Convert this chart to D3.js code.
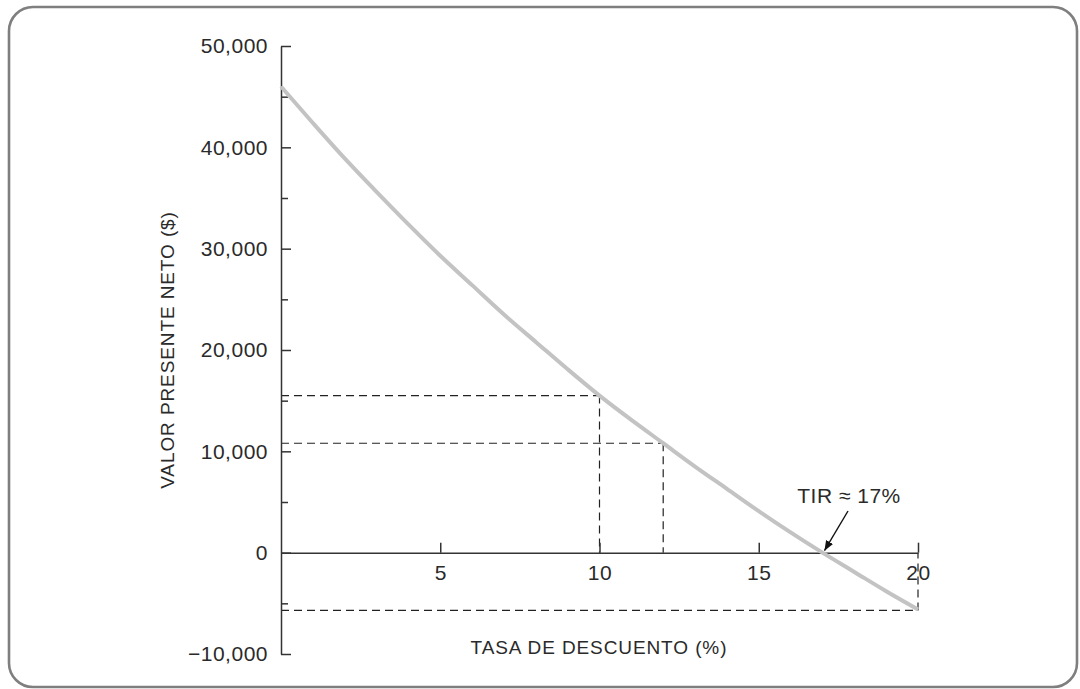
<!DOCTYPE html>
<html><head><meta charset="utf-8">
<script src="https://cdn.jsdelivr.net/npm/d3@7"></script>
<style>
html,body{margin:0;padding:0;background:#fff;}
svg{display:block;}
text{font-family:"Liberation Sans",Arial,sans-serif;fill:#2a2a2a;}
</style></head>
<body>
<svg id="chart" width="1080" height="689"></svg>
<script>
// Data
const rates = [0,1,2,3,4,5,6,7,8,9,10,11,12,13,14,15,16,17,18,19,20];
const npv = [46000,42400,38900,35600,32400,29300,26400,23500,20800,18100,15500,13100,10800,8500,6300,4100,2000,0,-1900,-3800,-5600];
const xTicks = [5,10,15,20];
const yMajorTicks = [-10000,0,10000,20000,30000,40000,50000];
const yMinorTicks = [-5000,5000,15000,25000,35000,45000];
const guideRates = [10,12,20];
const guideValues = [15500,10800,-5700];
const tirRate = 17;
const tirLabel = "TIR \u2248 17%";
const xTitle = "TASA DE DESCUENTO (%)";
const yTitle = "VALOR PRESENTE NETO ($)";

const svg = d3.select("#chart");
const x = d3.scaleLinear().domain([0,20]).range([281,918]);
const y = d3.scaleLinear().domain([-10000,50000]).range([654,46]);

// frame
svg.append("rect").attr("x",9).attr("y",7).attr("width",1068).attr("height",680)
  .attr("rx",24).attr("ry",24).attr("fill","none").attr("stroke","#7f7f7f").attr("stroke-width",2.6);

const axColor = "#333";
const lsTick = "0.5px";
const lsTitle = "0.9px";

// guide dashed lines
const dash = "8,5";
guideRates.forEach((r,i)=>{
  const v = guideValues[i];
  svg.append("line").attr("x1",x(0)).attr("x2",x(r)).attr("y1",y(v)).attr("y2",y(v))
    .attr("stroke","#222").attr("stroke-width",1.2).attr("stroke-dasharray",dash);
  svg.append("line").attr("x1",x(r)).attr("x2",x(r)).attr("y1",y(v)).attr("y2",y(0))
    .attr("stroke","#222").attr("stroke-width",1.2).attr("stroke-dasharray",dash);
});

// y axis
const yAxis = d3.axisLeft(y).tickValues(yMajorTicks).tickSizeInner(-10).tickSizeOuter(0).tickPadding(13)
  .tickFormat(d => d<0 ? "\u2212"+d3.format(",")(-d) : d3.format(",")(d));
const gy = svg.append("g").attr("transform",`translate(${x(0)},0)`).call(yAxis);
gy.selectAll("path,line").attr("stroke",axColor).attr("stroke-width",1.5);
gy.selectAll("text").attr("font-size",21).attr("font-family","Liberation Sans, Arial, sans-serif")
  .attr("fill","#2a2a2a").style("letter-spacing",lsTick);
const yMinor = d3.axisLeft(y).tickValues(yMinorTicks).tickSizeInner(-7).tickSizeOuter(0).tickFormat("");
const gym = svg.append("g").attr("transform",`translate(${x(0)},0)`).call(yMinor);
gym.select("path").remove();
gym.selectAll("line").attr("stroke",axColor).attr("stroke-width",1.5);

// x axis
const xAxis = d3.axisBottom(x).tickValues(xTicks).tickSizeInner(-10).tickSizeOuter(0).tickPadding(12);
const gx = svg.append("g").attr("transform",`translate(0,${y(0)})`).call(xAxis);
gx.selectAll("path,line").attr("stroke",axColor).attr("stroke-width",1.5);
gx.selectAll("text").attr("font-size",21).attr("font-family","Liberation Sans, Arial, sans-serif")
  .attr("fill","#2a2a2a").style("letter-spacing",lsTick);

// curve
const line = d3.line().x((d,i)=>x(rates[i])).y(d=>y(d)).curve(d3.curveMonotoneX);
svg.append("path").attr("d",line(npv)).attr("fill","none").attr("stroke","#c3c3c3").attr("stroke-width",4);

// titles
svg.append("text").attr("x",599).attr("y",654).attr("text-anchor","middle").attr("font-size",19)
  .style("letter-spacing",lsTitle).text(xTitle);
svg.append("text").attr("transform","translate(174,350) rotate(-90)").attr("text-anchor","middle").attr("font-size",19)
  .style("letter-spacing",lsTitle).text(yTitle);

// annotation
svg.append("defs").append("marker").attr("id","ah").attr("viewBox","0 0 10 10").attr("refX",10).attr("refY",5)
  .attr("markerWidth",10).attr("markerHeight",10).attr("markerUnits","userSpaceOnUse").attr("orient","auto")
  .append("path").attr("d","M0,1 L10,5 L0,9 Z").attr("fill","#111");
svg.append("line").attr("x1",848).attr("y1",511).attr("x2",x(tirRate)+2).attr("y2",y(0)-2)
  .attr("stroke","#111").attr("stroke-width",1.4).attr("marker-end","url(#ah)");
svg.append("text").attr("x",849).attr("y",503).attr("text-anchor","middle").attr("font-size",21)
  .style("letter-spacing",lsTick).text(tirLabel);
</script>
</body></html>
